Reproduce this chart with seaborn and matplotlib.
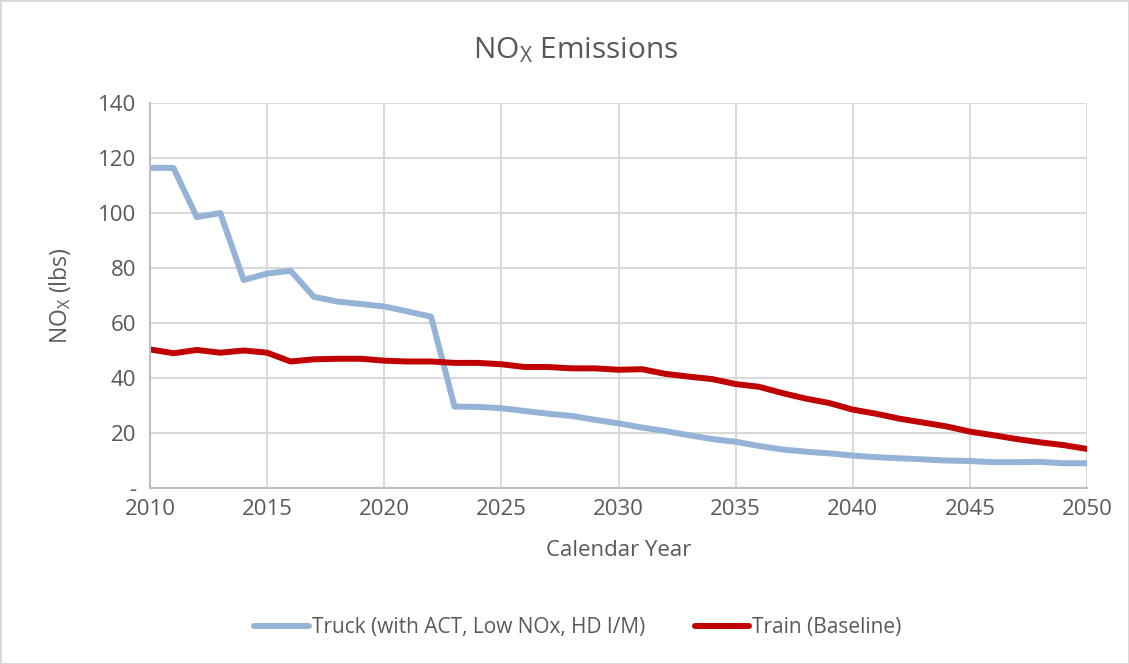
import matplotlib
matplotlib.use("Agg")
import matplotlib.pyplot as plt
import seaborn as sns
import pandas as pd

years = list(range(2010, 2051))

truck = [116.4, 116.4, 98.5, 100.0, 75.6, 78.0, 79.0, 69.5, 67.8, 66.9,
         66.0, 64.2, 62.3, 29.6, 29.5, 29.0, 28.0, 27.0, 26.2, 24.8,
         23.5, 22.0, 20.7, 19.2, 17.8, 16.8, 15.3, 14.0, 13.2, 12.6,
         11.8, 11.2, 10.8, 10.4, 10.0, 9.8, 9.4, 9.4, 9.5, 9.0,
         9.0]

train = [50.4, 49.0, 50.2, 49.2, 50.0, 49.2, 46.0, 46.8, 47.0, 47.0,
         46.3, 46.0, 46.0, 45.5, 45.5, 45.0, 44.0, 44.0, 43.5, 43.5,
         43.0, 43.2, 41.5, 40.5, 39.6, 37.8, 36.8, 34.5, 32.5, 30.9,
         28.5, 27.0, 25.2, 23.8, 22.4, 20.5, 19.2, 17.8, 16.6, 15.6,
         14.2]

series_names = ["Truck (with ACT, Low NOx, HD I/M)", "Train (Baseline)"]
series_colors = ["#95b3d7", "#c00000"]

y_ticks = [0, 20, 40, 60, 80, 100, 120, 140]
y_tick_labels = ["-", "20", "40", "60", "80", "100", "120", "140"]
x_ticks = [2010, 2015, 2020, 2025, 2030, 2035, 2040, 2045, 2050]

df = pd.DataFrame({
    "year": years * 2,
    "value": truck + train,
    "series": [series_names[0]] * len(years) + [series_names[1]] * len(years),
})

sns.set_theme(style="white")
plt.rcParams["font.family"] = ["Open Sans", "DejaVu Sans"]
plt.rcParams["mathtext.fontset"] = "custom"
plt.rcParams["mathtext.rm"] = "Open Sans"
plt.rcParams["mathtext.it"] = "Open Sans"

text_color = "#595959"
grid_color = "#d9d9d9"

fig = plt.figure(figsize=(11.29, 6.64), dpi=100)
fig.patch.set_facecolor("white")
fig.patch.set_edgecolor("#d9d9d9")
fig.patch.set_linewidth(2)

ax = fig.add_axes([150 / 1129, 1 - 488 / 664, (1087 - 150) / 1129, (488 - 103) / 664])

sns.lineplot(data=df, x="year", y="value", hue="series",
             palette=dict(zip(series_names, series_colors)),
             linewidth=4.3, ax=ax, legend=False)

ax.set_xlim(2010, 2050)
ax.set_ylim(0, 140)
ax.set_xticks(x_ticks)
ax.set_xticklabels([str(t) for t in x_ticks])
ax.set_yticks(y_ticks)
ax.set_yticklabels(y_tick_labels)
ax.tick_params(axis="both", labelsize=16, colors=text_color, length=0)
ax.tick_params(axis="y", pad=10)
ax.tick_params(axis="x", pad=8)

ax.grid(True, color=grid_color, linewidth=1.5)
ax.set_axisbelow(True)
for side in ["top", "right"]:
    ax.spines[side].set_visible(False)
for side in ["left", "bottom"]:
    ax.spines[side].set_color("#bfbfbf")
    ax.spines[side].set_linewidth(1.5)

ax.set_xlabel("Calendar Year", fontsize=16, color=text_color, labelpad=14)
ax.set_ylabel(r"NO$_{\mathregular{X}}$ (lbs)", fontsize=16.5, color=text_color, labelpad=18)

fig.text(576 / 1129, 1 - 50 / 664, r"NO$_{\mathregular{X}}$ Emissions",
         ha="center", va="center", fontsize=21.5, color=text_color)

handles = [plt.Line2D([0], [0], color=c, linewidth=4.3, solid_capstyle="round")
           for c in series_colors]
fig.legend(handles, series_names, loc="center", bbox_to_anchor=(578 / 1129, 1 - 628 / 664),
           ncol=2, frameon=False, fontsize=15, labelcolor=text_color,
           handlelength=2.6, handletextpad=0.15, columnspacing=2.4)

fig.savefig("out.png", dpi=100, facecolor=fig.get_facecolor(), edgecolor=fig.get_edgecolor())
